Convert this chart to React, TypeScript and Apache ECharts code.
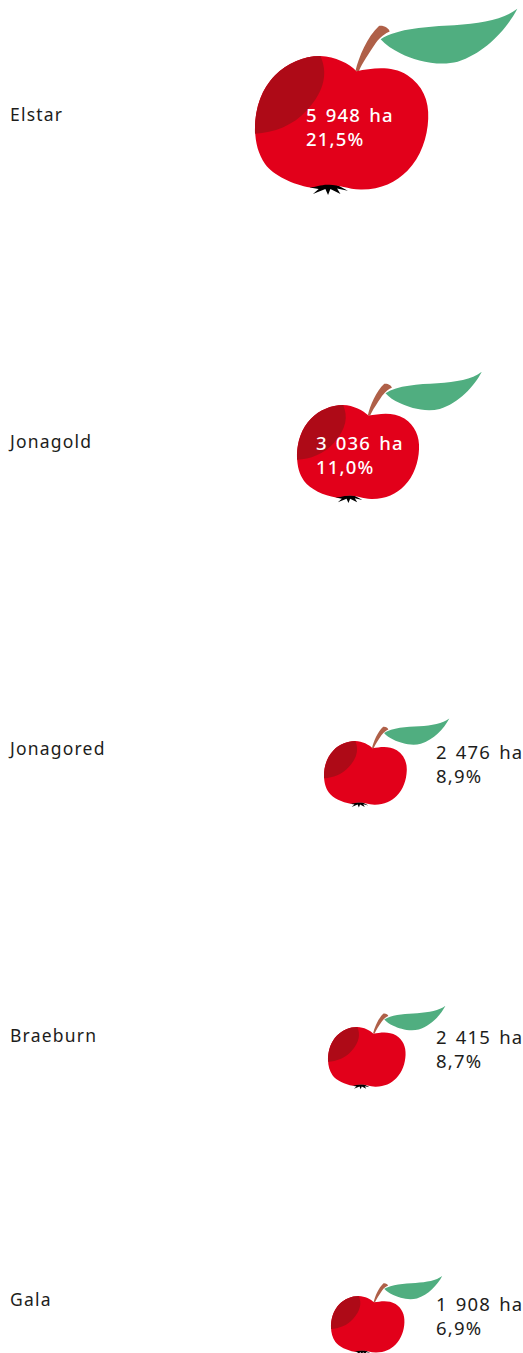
import React, { useEffect, useRef } from "react";
import * as echarts from "echarts";

const categories = ["Elstar", "Jonagold", "Jonagored", "Braeburn", "Gala"];
const hectares = [5948, 3036, 2476, 2415, 1908];
const shares = [21.5, 11.0, 8.9, 8.7, 6.9];

// layout, in page pixels
const W = 523;
const H = 1353;
const labelY = [114, 441, 748, 1035, 1299];
const appleLeft = [255, 297, 324, 328, 331];
const appleTop = [56, 405, 741, 1027, 1296];
const appleWidth = [173, 122, 82.5, 77.5, 73.5];
const textX = [306, 316, 436, 436, 436];
const textY = [114, 442, 751, 1036, 1303];
const textFill = ["#ffffff", "#ffffff", "#1d1d1b", "#1d1d1b", "#1d1d1b"];
const textWeight = [500, 500, 400, 400, 400];

const FONT = "'Noto Sans', sans-serif";
const BODY_W = 517;
const BODY_L = 45;
const BODY_T = 168;
const body =
  "M348,213 C395,205 450,195 500,225 C545,255 565,300 562,355 C560,410 540,470 500,510 C465,545 420,567 360,566 C320,565 290,550 262,552 C240,552 225,560 210,560 C160,552 100,525 75,490 C55,460 46,430 45,385 C45,320 65,265 105,225 C140,190 190,168 240,168 C285,170 325,190 348,213 Z";
const shade =
  "M240,168 C262,215 255,270 200,330 C160,375 100,398 45,400 C42,330 65,265 105,225 C140,190 190,168 240,168 Z";
const stem =
  "M345,212 C355,170 380,110 415,78 C430,76 445,85 447,95 C435,100 420,110 405,130 C385,160 365,190 355,213 Z";
const leaf =
  "M420,118 C470,85 560,80 640,76 C720,70 785,60 828,27 C795,90 730,160 650,185 C590,200 520,180 480,160 C455,148 435,135 420,118 Z";
const calyx =
  "M208,560 L235,550 L285,550 L322,570 L290,563 L300,580 L270,565 L263,583 L255,565 L218,580 L235,565 Z";

const formatHa = (v: number) => String(v).replace(/\B(?=(\d{3})+$)/g, " ") + " ha";
const formatShare = (v: number) => v.toFixed(1).replace(".", ",") + "%";

export default function App() {
  const ref = useRef<HTMLDivElement>(null);
  useEffect(() => {
    const chart = echarts.init(ref.current!, null, { renderer: "svg" });
    const text = (t: string, x: number, y: number, fill: string, fontSize: number, fontWeight: number) => ({
      type: "text",
      x,
      y,
      style: { text: t, fill, fontSize, fontWeight, fontFamily: FONT, align: "left", verticalAlign: "middle" },
    });
    chart.setOption({
      animation: false,
      grid: { left: 0, right: 0, top: 0, bottom: 0 },
      xAxis: { type: "value", min: 0, max: W, show: false },
      yAxis: { type: "value", min: 0, max: H, inverse: true, show: false },
      series: [
        {
          type: "custom",
          clip: false,
          silent: true,
          data: categories.map((c, i) => [i, hectares[i], shares[i]]),
          encode: { x: 1, y: 0 },
          renderItem: (_: any, api: any) => {
            const i = api.value(0);
            const s = appleWidth[i] / BODY_W;
            const [ox, oy] = api.coord([appleLeft[i] - BODY_L * s, appleTop[i] - BODY_T * s]);
            const [tx, ty] = api.coord([textX[i], textY[i]]);
            const [lx, ly] = api.coord([10, labelY[i]]);
            const art = [
              [leaf, "#50ae80"],
              [stem, "#af6048"],
              [calyx, "#000000"],
              [body, "#e2001a"],
              [shade, "#ae0a17"],
            ];
            return {
              type: "group",
              children: [
                {
                  type: "group",
                  x: ox,
                  y: oy,
                  scaleX: s,
                  scaleY: s,
                  children: art.map(([d, fill]) => ({
                    type: "path",
                    shape: { pathData: d },
                    style: { fill },
                  })),
                },
                text(categories[i], lx, ly, "#1d1d1b", 17.5, 400),
                text(formatHa(api.value(1)), tx, ty, textFill[i], 18.5, textWeight[i]),
                text(formatShare(api.value(2)), tx, ty + 24.5, textFill[i], 18.5, textWeight[i]),
              ],
            };
          },
        },
      ],
    });
    return () => chart.dispose();
  }, []);
  return (
    <div
      ref={ref}
      style={{
        position: "absolute",
        left: 0,
        top: 0,
        width: W,
        height: H,
        letterSpacing: "1.2px",
        wordSpacing: "2px",
        overflow: "hidden",
      }}
    />
  );
}
